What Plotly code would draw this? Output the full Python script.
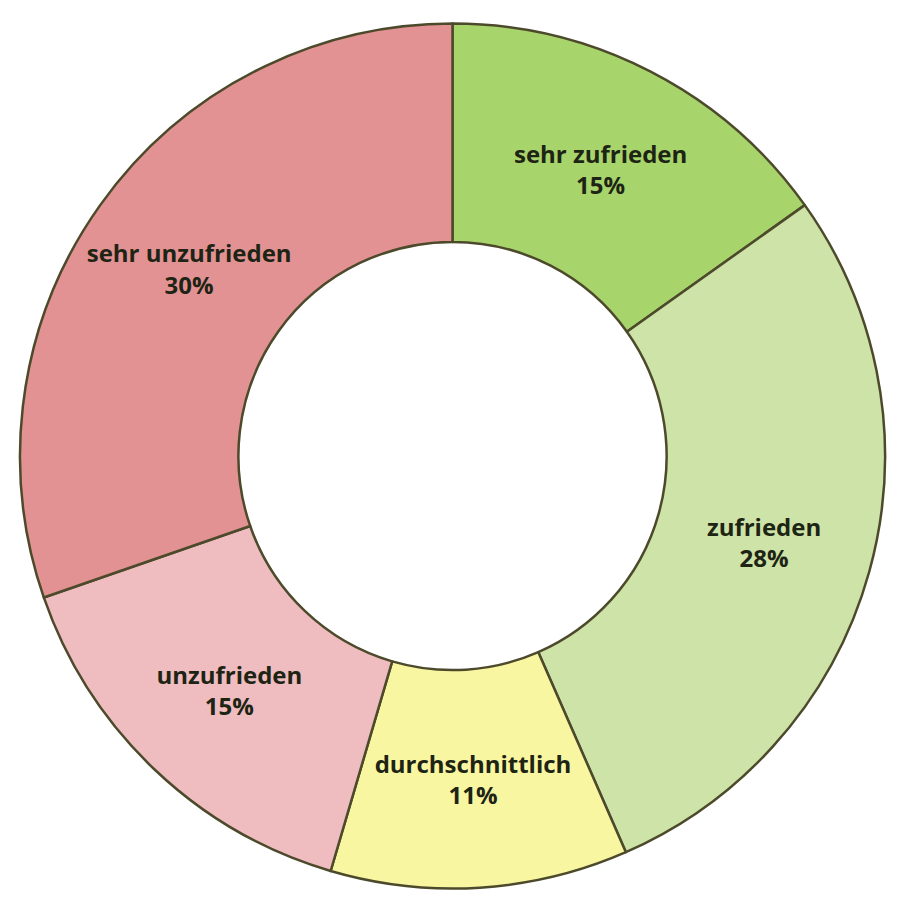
import plotly.graph_objects as go

labels = ["sehr zufrieden", "zufrieden", "durchschnittlich", "unzufrieden", "sehr unzufrieden"]
values = [15, 28, 11, 15, 30]
colors = ["#a8d46c", "#cde3a8", "#f9f6a2", "#efbcc0", "#e39294"]

fig = go.Figure(
    go.Pie(
        labels=labels,
        values=values,
        hole=0.495,
        sort=False,
        direction="clockwise",
        rotation=0,
        marker=dict(colors=colors, line=dict(color="#4d4a2c", width=2.5)),
        texttemplate="<b>%{label}<br>%{value}%</b>",
        textposition="inside",
        insidetextorientation="horizontal",
        textfont=dict(family="Open Sans", size=24, color="#1e2414"),
        showlegend=False,
    )
)
fig.update_layout(
    width=909,
    height=900,
    margin=dict(l=12, r=32, t=14, b=18),
    paper_bgcolor="white",
    uniformtext=dict(minsize=20, mode="show"),
)
fig.write_html("out.html")
